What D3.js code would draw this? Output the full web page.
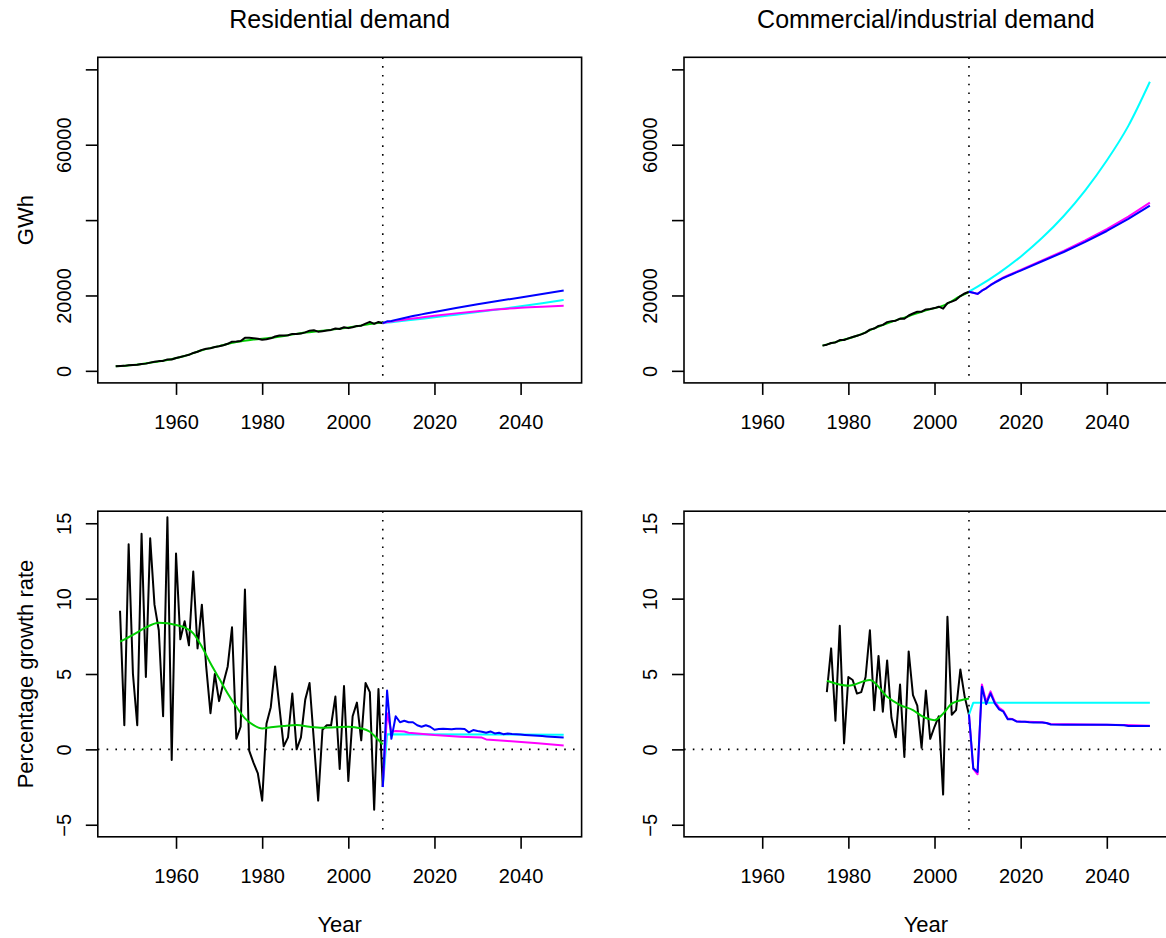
<!DOCTYPE html>
<html>
<head>
<meta charset="utf-8">
<script src="https://cdn.jsdelivr.net/npm/d3@7"></script>
<style>
  body { margin: 0; background: #fff; }
  svg { display: block; font-family: "Liberation Sans", Arial, Helvetica, sans-serif; }
</style>
</head>
<body>
<svg id="chart" width="1166" height="938"></svg>
<script>
// ---- data ----
const resYears = d3.range(1946, 2009);
const resGWh = [1190, 1300, 1320, 1500, 1570, 1600, 1830, 1915, 2180, 2390,
  2580, 2640, 3040, 3020, 3420, 3665, 3975, 4250, 4750, 5070,
  5560, 5865, 6010, 6310, 6510, 6795, 7170, 7750, 7800, 7920,
  8760, 8760, 8680, 8540, 8250, 8390, 8630, 9100, 9360, 9370,
  9450, 9800, 9800, 9885, 10210, 10655, 10760, 10395, 10530, 10690,
  10860, 11240, 11100, 11570, 11330, 11575, 11930, 11995, 12525, 13000,
  12480, 12975, 12650];
const resSmoothYears = [1946, 1950, 1954, 1958, 1962, 1966, 1970, 1974, 1978, 1982, 1986, 1990, 1994, 1998, 2002, 2006, 2008];
const resSmoothGWh = [1190, 1560, 2160, 2880, 3930, 5450, 6560, 7650, 8330, 8750, 9450, 10150, 10650, 11200, 11850, 12550, 12800];

const resGrowthYears = d3.range(1947, 2009);
const resGrowth = [9.2, 1.6, 13.6, 5.0, 1.6, 14.3, 4.8, 14.0, 9.6, 7.9,
  2.2, 15.4, -0.7, 13.0, 7.3, 8.5, 6.9, 11.8, 6.7, 9.6,
  5.5, 2.4, 5.0, 3.2, 4.4, 5.5, 8.1, 0.7, 1.5, 10.6,
  -0.1, -0.9, -1.6, -3.4, 1.7, 2.8, 5.5, 2.8, 0.2, 0.8,
  3.7, 0.0, 0.8, 3.3, 4.4, 0.6, -3.4, 1.3, 1.6, 1.6,
  3.5, -1.3, 4.2, -2.1, 2.2, 3.1, 0.6, 4.4, 3.8, -4.0,
  4.0, -2.5];
const resGrowthSmoothYears = [1947, 1950, 1953, 1956, 1958, 1960, 1962, 1964, 1966, 1968, 1970, 1972, 1974, 1976, 1978, 1980, 1982, 1985, 1988, 1991, 1994, 1997, 2000, 2003, 2005, 2007, 2008];
const resGrowthSmooth = [7.14, 7.59, 8.09, 8.4, 8.36, 8.25, 8.09, 7.7, 6.81, 5.71, 4.71, 3.71, 2.83, 2.06, 1.61, 1.39, 1.46, 1.55, 1.61, 1.5, 1.44, 1.46, 1.5, 1.39, 1.17, 0.62, 0.33];

const comYears = d3.range(1974, 2009);
const comGWh = [6690, 6940, 7400, 7550, 8170, 8200, 8600, 8990, 9320, 9670,
  10140, 10940, 11220, 11910, 12200, 12930, 13190, 13300, 13870, 13800,
  14690, 15220, 15670, 15690, 16300, 16410, 16650, 17020, 16510, 17960,
  18370, 18850, 19840, 20530, 21000];
const comSmoothYears = [1974, 1978, 1982, 1986, 1990, 1994, 1998, 2002, 2006, 2008];
const comSmoothGWh = [6690, 7950, 9300, 11250, 13000, 14500, 16050, 17300, 19800, 20900];

const comGrowthYears = d3.range(1975, 2009);
const comGrowth = [3.8, 6.7, 1.9, 8.2, 0.4, 4.8, 4.6, 3.7, 3.8, 4.8,
  7.9, 2.6, 6.2, 2.5, 5.9, 2.1, 0.8, 4.3, -0.5, 6.5,
  3.6, 2.9, 0.1, 3.9, 0.7, 1.5, 2.2, -3.0, 8.8, 2.3,
  2.6, 5.3, 3.5, 2.3];
const comGrowthSmoothYears = [1975, 1980, 1985, 1989, 1992, 1995, 1997, 2000, 2002, 2004, 2007, 2008];
const comGrowthSmooth = [4.55, 4.22, 4.6, 3.49, 2.94, 2.61, 2.22, 1.94, 2.37, 3.03, 3.32, 3.38];

// forecasts (2008 onwards)
const resBlueYears = [2008, 2009, 2010, 2011, 2012, 2013, 2014, 2015, 2016, 2017, 2018, 2020, 2025, 2030, 2035, 2040, 2045, 2050];
const resBlueGWh = [12650, 13140, 13230, 13520, 13760, 14020, 14270, 14530, 14760, 14980, 15220, 15620, 16650, 17650, 18580, 19480, 20400, 21300];
const resMagentaYears = [2008, 2009, 2010, 2011, 2012, 2013, 2014, 2015, 2020, 2025, 2030, 2035, 2040, 2045, 2050];
const resMagentaGWh = [12650, 12950, 13100, 13260, 13420, 13580, 13730, 13880, 14610, 15250, 15800, 16330, 16750, 17030, 17240];
const resCyanYears = [2008, 2010, 2015, 2020, 2025, 2030, 2035, 2040, 2045, 2050];
const resCyanGWh = [12650, 12900, 13560, 14200, 14900, 15600, 16350, 17150, 17950, 18830];

const comBlueYears = [2008, 2009, 2010, 2011, 2012, 2013, 2014, 2015, 2016, 2017, 2018, 2019, 2020, 2025, 2030, 2035, 2040, 2045, 2050];
const comBlueGWh = [21000, 20735, 20420, 21270, 21910, 22720, 23420, 24040, 24640, 25130, 25640, 26110, 26590, 29080, 31530, 34210, 37110, 40300, 43850];
const comMagentaYears = [2008, 2009, 2010, 2011, 2012, 2013, 2014, 2015, 2016, 2017, 2018, 2020, 2025, 2030, 2035, 2040, 2045, 2050];
const comMagentaGWh = [21000, 20730, 20390, 21270, 21940, 22790, 23510, 24160, 24780, 25290, 25800, 26770, 29300, 31850, 34600, 37600, 40900, 44650];
const comCyanYears = [2008, 2010, 2015, 2020, 2025, 2030, 2035, 2040, 2045, 2050];
const comCyanGWh = [21000, 22320, 26000, 30300, 35300, 41100, 47900, 55800, 65000, 76700];

const resBlueGrowthYears = d3.range(2008, 2051);
const resBlueGrowth = [-2.5, 3.9, 0.7, 2.2, 1.8, 1.9, 1.8, 1.8, 1.6, 1.5,
  1.6, 1.5, 1.3, 1.35, 1.37, 1.35, 1.33, 1.37, 1.37, 1.35,
  1.13, 1.28, 1.22, 1.17, 1.1, 1.19, 1.06, 1.1, 1.01, 1.05,
  1.02, 1.0, 0.98, 0.96, 0.94, 0.92, 0.9, 0.88, 0.86, 0.84,
  0.82, 0.8, 0.78];
const resMagentaGrowthYears = [2008, 2009, 2010, 2011, 2012, 2013, 2014, 2016, 2020, 2026, 2031, 2032, 2037, 2044, 2050];
const resMagentaGrowth = [-2.5, 2.4, 1.17, 1.22, 1.2, 1.18, 1.1, 1.06, 0.95, 0.84, 0.78, 0.66, 0.55, 0.4, 0.26];
const resCyanGrowthYears = [2008, 2009, 2050];
const resCyanGrowth = [-2.5, 1.0, 0.97];

const comBlueGrowthYears = [2008, 2009, 2010, 2011, 2012, 2013, 2014, 2015, 2016, 2017, 2018, 2019, 2020, 2021, 2022, 2023, 2024, 2025, 2026, 2027, 2030, 2035, 2040, 2044, 2045, 2050];
const comBlueGrowth = [2.3, -1.26, -1.5, 4.16, 3.0, 3.72, 3.05, 2.65, 2.5, 2.0, 2.0, 1.85, 1.83, 1.83, 1.8, 1.78, 1.78, 1.78, 1.75, 1.65, 1.63, 1.63, 1.63, 1.6, 1.55, 1.55];
const comMagentaGrowthYears = [2008, 2009, 2010, 2011, 2012, 2013, 2014, 2015, 2016, 2017, 2018, 2019, 2020, 2025, 2027, 2035, 2044, 2050];
const comMagentaGrowth = [2.3, -1.3, -1.65, 4.3, 3.15, 3.85, 3.15, 2.75, 2.55, 2.05, 2.02, 1.87, 1.85, 1.8, 1.68, 1.65, 1.62, 1.57];
const comCyanGrowthYears = [2008, 2009, 2050];
const comCyanGrowth = [2.3, 3.1, 3.1];

const xTicks = [1960, 1980, 2000, 2020, 2040];
const gwhTicks = [0, 20000, 40000, 60000, 80000];
const gwhLabels = ["0", "20000", "", "60000", ""];
const growthTicks = [-5, 0, 5, 10, 15];
const growthLabels = ["\u22125", "0", "5", "10", "15"];
const titles = ["Residential demand", "Commercial/industrial demand"];

// ---- layout ----
const svg = d3.select("#chart");
const xlim = [1946, 2050];
const gwhLim = [0, 80000];
const growthLim = [-5, 15];
const lefts = [97.8, 684];
const tops = [57.3, 511.2];
const plotW = 483.8, plotH = 325.6;
const forecastYear = 2008;

const pad = lim => {
  const e = (lim[1] - lim[0]) * 0.04;
  return [lim[0] - e, lim[1] + e];
};
const zip = (xs, ys) => xs.map((d, i) => [d, ys[i]]);

function panel(opt) {
  const left = lefts[opt.col], top = tops[opt.row];
  const x = d3.scaleLinear().domain(pad(xlim)).range([left, left + plotW]);
  const y = d3.scaleLinear().domain(pad(opt.ylim)).range([top + plotH, top]);
  const g = svg.append("g");

  // dotted reference lines
  g.append("line")
    .attr("x1", x(forecastYear)).attr("x2", x(forecastYear))
    .attr("y1", top).attr("y2", top + plotH)
    .attr("stroke", "#000").attr("stroke-width", 1.6)
    .attr("stroke-dasharray", "1.6,7.2");
  if (opt.zeroLine) {
    g.append("line")
      .attr("x1", left).attr("x2", left + plotW)
      .attr("y1", y(0)).attr("y2", y(0))
      .attr("stroke", "#000").attr("stroke-width", 1.6)
      .attr("stroke-dasharray", "1.6,7.2");
  }

  const line = d3.line().x(d => x(d[0])).y(d => y(d[1]));
  opt.series.forEach(s => {
    g.append("path")
      .datum(s.data)
      .attr("fill", "none")
      .attr("stroke", s.color)
      .attr("stroke-width", 2)
      .attr("stroke-linejoin", "round")
      .attr("d", s.smooth ? line.curve(d3.curveMonotoneX)(s.data) : line.curve(d3.curveLinear)(s.data));
  });

  // box
  g.append("rect")
    .attr("x", left).attr("y", top)
    .attr("width", plotW).attr("height", plotH)
    .attr("fill", "none").attr("stroke", "#000").attr("stroke-width", 1.6);

  // x axis
  const xa = g.append("g")
    .attr("transform", `translate(0,${top + plotH})`)
    .call(d3.axisBottom(x).tickValues(xTicks).tickFormat(d3.format("d")).tickSize(12).tickSizeOuter(0));
  xa.select(".domain").remove();
  xa.selectAll("line").attr("stroke-width", 1.6);
  xa.selectAll("text").attr("y", 46).attr("dy", 0)
    .style("font-size", "20px").attr("fill", "#000");

  // y axis
  const ya = g.append("g")
    .attr("transform", `translate(${left},0)`)
    .call(d3.axisLeft(y).tickValues(opt.ticks).tickFormat((d, i) => opt.labels[i]).tickSize(12).tickSizeOuter(0));
  ya.select(".domain").remove();
  ya.selectAll("line").attr("stroke-width", 1.6);
  ya.selectAll("text")
    .attr("transform", "rotate(-90)")
    .attr("x", 0).attr("y", -27).attr("dy", 0)
    .attr("text-anchor", "middle")
    .style("font-size", "20px").attr("fill", "#000");

  const cx = left + plotW / 2, cy = top + plotH / 2;
  if (opt.title) {
    svg.append("text").attr("x", cx).attr("y", 28)
      .attr("text-anchor", "middle").style("font-size", "25px")
      .text(opt.title);
  }
  if (opt.xlab) {
    svg.append("text").attr("x", cx).attr("y", 932)
      .attr("text-anchor", "middle").style("font-size", "22px")
      .text(opt.xlab);
  }
  if (opt.ylab) {
    svg.append("text")
      .attr("transform", `translate(33,${cy}) rotate(-90)`)
      .attr("text-anchor", "middle").style("font-size", "22px")
      .text(opt.ylab);
  }
}

panel({
  row: 0, col: 0, ylim: gwhLim, ticks: gwhTicks, labels: gwhLabels,
  title: titles[0], ylab: "GWh",
  series: [
    {data: zip(resSmoothYears, resSmoothGWh), color: "#00cd00", smooth: true},
    {data: zip(resYears, resGWh), color: "#000"},
    {data: zip(resCyanYears, resCyanGWh), color: "#00ffff", smooth: true},
    {data: zip(resMagentaYears, resMagentaGWh), color: "#ff00ff", smooth: true},
    {data: zip(resBlueYears, resBlueGWh), color: "#0000ff"}
  ]
});

panel({
  row: 0, col: 1, ylim: gwhLim, ticks: gwhTicks, labels: gwhLabels,
  title: titles[1],
  series: [
    {data: zip(comSmoothYears, comSmoothGWh), color: "#00cd00", smooth: true},
    {data: zip(comYears, comGWh), color: "#000"},
    {data: zip(comCyanYears, comCyanGWh), color: "#00ffff", smooth: true},
    {data: zip(comMagentaYears, comMagentaGWh), color: "#ff00ff"},
    {data: zip(comBlueYears, comBlueGWh), color: "#0000ff"}
  ]
});

panel({
  row: 1, col: 0, ylim: growthLim, ticks: growthTicks, labels: growthLabels,
  xlab: "Year", ylab: "Percentage growth rate", zeroLine: true,
  series: [
    {data: zip(resGrowthYears, resGrowth), color: "#000"},
    {data: zip(resGrowthSmoothYears, resGrowthSmooth), color: "#00cd00", smooth: true},
    {data: zip(resCyanGrowthYears, resCyanGrowth), color: "#00ffff"},
    {data: zip(resMagentaGrowthYears, resMagentaGrowth), color: "#ff00ff"},
    {data: zip(resBlueGrowthYears, resBlueGrowth), color: "#0000ff"}
  ]
});

panel({
  row: 1, col: 1, ylim: growthLim, ticks: growthTicks, labels: growthLabels,
  xlab: "Year", zeroLine: true,
  series: [
    {data: zip(comGrowthYears, comGrowth), color: "#000"},
    {data: zip(comGrowthSmoothYears, comGrowthSmooth), color: "#00cd00", smooth: true},
    {data: zip(comCyanGrowthYears, comCyanGrowth), color: "#00ffff"},
    {data: zip(comMagentaGrowthYears, comMagentaGrowth), color: "#ff00ff"},
    {data: zip(comBlueGrowthYears, comBlueGrowth), color: "#0000ff"}
  ]
});
</script>
</body>
</html>
